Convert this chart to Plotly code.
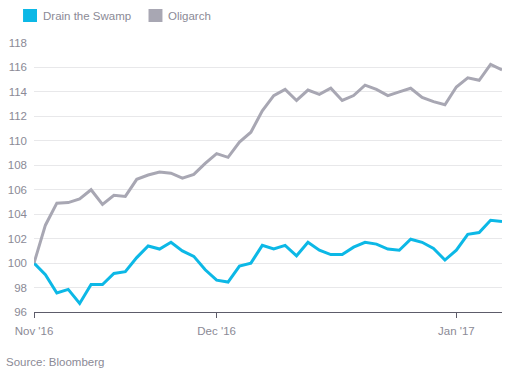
import pandas as pd
import plotly.graph_objects as go

# Trading days (x categories)
dates = [d.strftime("%Y-%m-%d") for d in pd.bdate_range(
    "2016-11-08", "2017-01-09", freq="C",
    holidays=["2016-11-24", "2016-12-26", "2017-01-02"])]

series_names = ["Drain the Swamp", "Oligarch"]
series_colors = ["#0cb8e6", "#a8a7b3"]

drain_the_swamp = [100.0, 99.05, 97.55, 97.85, 96.7, 98.25, 98.25, 99.15, 99.3, 100.45,
                   101.4, 101.15, 101.7, 101.0, 100.55, 99.45, 98.6, 98.45, 99.75, 100.0,
                   101.45, 101.15, 101.45, 100.6, 101.7, 101.05, 100.7, 100.7, 101.3, 101.7,
                   101.55, 101.15, 101.05, 101.95, 101.7, 101.2, 100.25, 101.05, 102.35, 102.5,
                   103.5, 103.4]
oligarch = [100.0, 103.1, 104.9, 104.95, 105.25, 106.0, 104.8, 105.55, 105.45, 106.85,
            107.2, 107.45, 107.35, 106.95, 107.25, 108.15, 108.95, 108.65, 109.9, 110.7,
            112.45, 113.7, 114.2, 113.3, 114.15, 113.8, 114.3, 113.3, 113.7, 114.55,
            114.2, 113.7, 114.0, 114.3, 113.55, 113.2, 112.95, 114.4, 115.15, 114.95,
            116.25, 115.8]

tick_dates = ["2016-11-08", "2016-12-01", "2017-01-03"]
tick_labels = ["Nov '16", "Dec '16", "Jan '17"]
y_ticks = [96, 98, 100, 102, 104, 106, 108, 110, 112, 114, 116, 118]
source_text = "Source: Bloomberg"

W, H = 510, 374
L, R, T, B = 32, 8, 43, 62
PW, PH = W - L - R, H - T - B
FONT = "Liberation Sans, Arial, sans-serif"
TXT = "#8b8a96"

def px(x):
    return (x - L) / PW

def py(y):
    return (H - B - y) / PH

fig = go.Figure()
for name, vals, col in zip(series_names, [drain_the_swamp, oligarch], series_colors):
    fig.add_trace(go.Scatter(x=dates, y=vals, mode="lines", name=name,
                             line=dict(color=col, width=3), showlegend=False))

# Custom legend (squares + labels)
leg_x = [21, 147]
for lx, name, col in zip(leg_x, series_names, series_colors):
    fig.add_shape(type="rect", xref="paper", yref="paper",
                  x0=px(lx), x1=px(lx + 14), y0=py(22), y1=py(9),
                  fillcolor=col, line=dict(width=0))
    fig.add_annotation(xref="paper", yref="paper", x=px(lx + 18), y=py(15.5),
                       text=name, showarrow=False, xanchor="left", yanchor="middle",
                       font=dict(family=FONT, size=11.5, color=TXT))

fig.add_annotation(xref="paper", yref="paper", x=px(2), y=py(362.5),
                   text=source_text, showarrow=False, xanchor="left", yanchor="middle",
                   font=dict(family=FONT, size=11.5, color=TXT))

fig.update_layout(
    width=W, height=H,
    margin=dict(l=L, r=R, t=T, b=B, pad=0),
    paper_bgcolor="white", plot_bgcolor="white",
    font=dict(family=FONT, size=11.5, color=TXT),
    xaxis=dict(type="category", range=[0, len(dates) - 1],
               tickmode="array", tickvals=tick_dates, ticktext=tick_labels,
               showgrid=False, showline=True, linecolor="#5d5c6a", linewidth=1,
               ticks="outside", ticklen=5, tickcolor="#5d5c6a", tickwidth=1,
               ticklabelstandoff=3,
               tickfont=dict(family=FONT, size=11.5, color=TXT), zeroline=False),
    yaxis=dict(range=[96, 118], tickmode="array", tickvals=y_ticks,
               showgrid=True, gridcolor="#e8e8ea", gridwidth=1,
               zeroline=False, showline=False, ticks="",
               ticklabelstandoff=6,
               tickfont=dict(family=FONT, size=11.5, color=TXT)),
)

fig.write_html("out.html", config={"displayModeBar": False},
               post_script="document.body.style.margin='0';document.body.style.overflow='hidden';")
